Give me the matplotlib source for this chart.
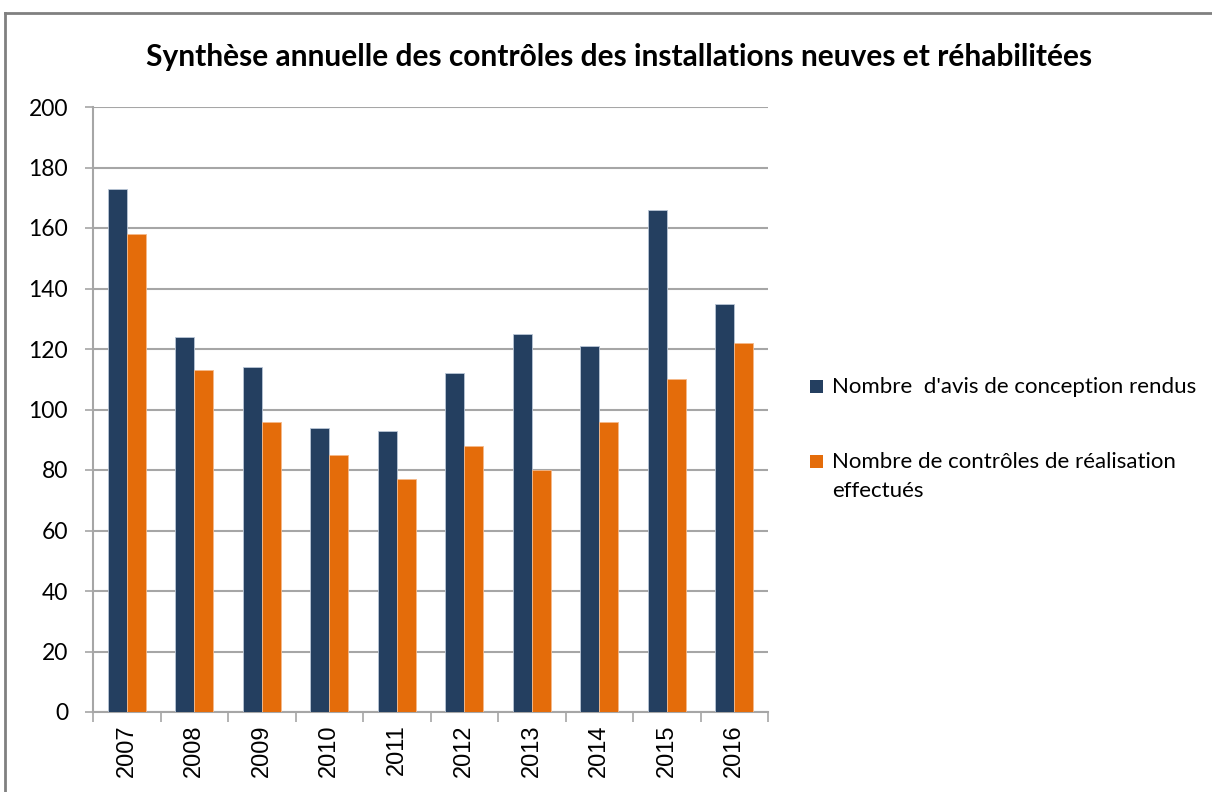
import numpy as np
import matplotlib
matplotlib.use('Agg')
import matplotlib.pyplot as plt
from matplotlib.lines import Line2D
from matplotlib.patches import Rectangle

plt.rcParams['font.family'] = ['Lato', 'DejaVu Sans']

# ── data ─────────────────────────────────────────────────────────────────────
years = ['2007', '2008', '2009', '2010', '2011', '2012', '2013', '2014', '2015', '2016']
avis_conception = [173, 124, 114, 94, 93, 112, 125, 121, 166, 135]
controles_realisation = [158, 113, 96, 85, 77, 88, 80, 96, 110, 122]
labels = ["Nombre  d'avis de conception rendus",
          "Nombre de contrôles de réalisation\neffectués"]

c_dark = '#243F60'
c_orange = '#E46C0A'
grid_c = '#A6A6A6'

W, H = 1212, 792
fig = plt.figure(figsize=(W / 100, H / 100), dpi=100, facecolor='white')
ax = fig.add_axes([93/W, 1-712/H, (768-93)/W, (712-107)/H])

x = np.arange(len(years))
w = 0.28
ax.bar(x - w/2, avis_conception, w, color=c_dark, edgecolor='#B9C6D6', linewidth=0.6, zorder=3)
ax.bar(x + w/2, controles_realisation, w, color=c_orange, edgecolor='#F5B98A', linewidth=0.6, zorder=3)

ax.set_xlim(-0.5, len(years) - 0.5)
ax.set_ylim(0, 200)
ax.set_yticks(np.arange(0, 201, 20))
ax.yaxis.grid(True, color=grid_c, linewidth=1.5, zorder=0)
ax.set_axisbelow(True)

ax.set_xticks(x)
ax.set_xticklabels(years, rotation=90, fontsize=17, family=['Liberation Sans', 'DejaVu Sans'])
ax.tick_params(axis='x', which='major', length=0, pad=9)
ax.set_xticks(np.arange(-0.5, len(years)), minor=True)
ax.tick_params(axis='x', which='minor', length=7, width=1.2, color=grid_c)
ax.tick_params(axis='y', length=6, width=1.2, color=grid_c, labelsize=16.5, pad=12)

for s in ['top', 'right']:
    ax.spines[s].set_visible(False)
for s in ['left', 'bottom']:
    ax.spines[s].set_color(grid_c)
    ax.spines[s].set_linewidth(1.5)

fig.text((147 + 1092) / 2 / W, 1 - 57/H,
         'Synthèse annuelle des contrôles des installations neuves et réhabilitées',
         ha='center', va='center', fontsize=21.5, fontweight='bold')

# legend drawn by hand: marker aligned with first line of the wrapped label
for (lab, col, yc) in zip(labels, [c_dark, c_orange], [386, 461]):
    fig.add_artist(Rectangle((810/W, 1 - (yc + 7)/H), 13/W, 13/H,
                             transform=fig.transFigure, facecolor=col, edgecolor='none'))
    fig.text(832/W, 1 - (yc - 9)/H, lab, ha='left', va='top', fontsize=16,
             linespacing=1.55)

# outer frame (top and left edges visible)
fig.add_artist(Line2D([5/W, 5/W], [0, 1 - 13/H], transform=fig.transFigure,
                      color='#808080', linewidth=2))
fig.add_artist(Line2D([5/W, 1], [1 - 13/H, 1 - 13/H], transform=fig.transFigure,
                      color='#808080', linewidth=2))

fig.savefig('out.png', dpi=100, facecolor='white')
